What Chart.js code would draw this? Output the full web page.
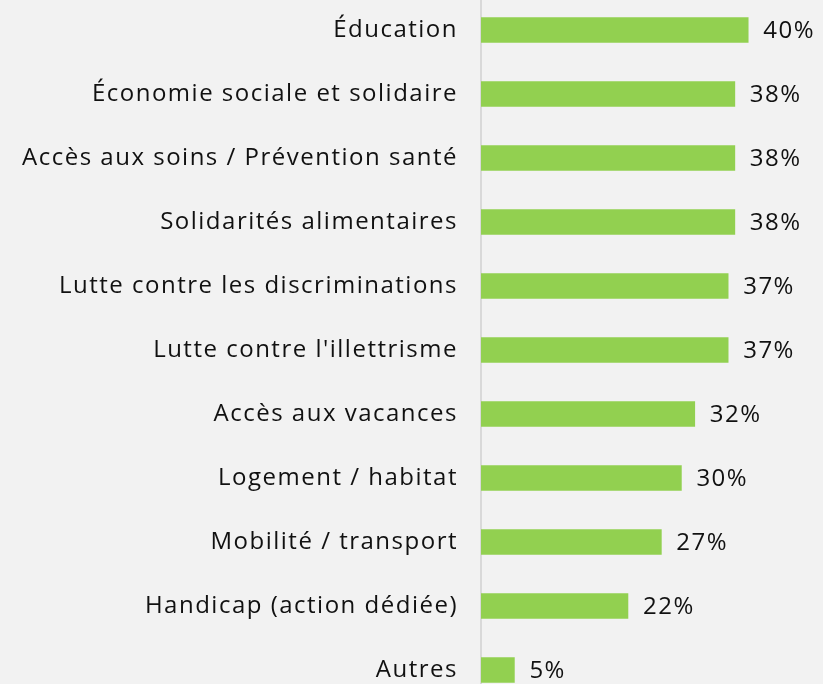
<!DOCTYPE html>
<html><head><meta charset="utf-8">
<script src="https://cdn.jsdelivr.net/npm/chart.js@4.4.1/dist/chart.umd.min.js"></script>
<style>
html,body{margin:0;padding:0;background:#f2f2f2;overflow:hidden;width:823px;height:684px;}
#wrap{position:absolute;left:0;top:-2px;width:823px;height:704px;}
</style></head>
<body>
<div id="wrap"><canvas id="c"></canvas></div>
<script>
const categories = ["Éducation","Économie sociale et solidaire","Accès aux soins / Prévention santé","Solidarités alimentaires","Lutte contre les discriminations","Lutte contre l'illettrisme","Accès aux vacances","Logement / habitat","Mobilité / transport","Handicap (action dédiée)","Autres"];
const values = [40,38,38,38,37,37,32,30,27,22,5];
const FONT = "'Open Sans'";
const FSIZE = 24;
const LS = '1.5px';
const spacing = {
  id:'spacing',
  beforeDraw(chart){ chart.ctx.letterSpacing = LS; }
};
const valueLabels = {
  id:'valueLabels',
  afterDatasetsDraw(chart){
    const ctx = chart.ctx;
    const meta = chart.getDatasetMeta(0);
    ctx.save();
    ctx.letterSpacing = LS;
    ctx.font = FSIZE + "px " + FONT;
    ctx.fillStyle = "#111";
    ctx.textBaseline = "middle";
    ctx.textAlign = "left";
    meta.data.forEach((bar,i)=>{
      ctx.fillText(values[i] + "%", bar.x + 15, bar.y + 1);
    });
    ctx.restore();
  }
};
new Chart(document.getElementById('c'),{
  type:'bar',
  data:{labels:categories,datasets:[{data:values,backgroundColor:'#92d050',barThickness:25}]},
  options:{
    indexAxis:'y',
    responsive:true,maintainAspectRatio:false,animation:false,
    layout:{padding:{left:0,right:8,top:0,bottom:0}},
    plugins:{legend:{display:false},tooltip:{enabled:false}},
    scales:{
      x:{display:false,min:0,max:50},
      y:{
        grid:{display:false,drawTicks:false},
        border:{display:true,color:'#d9d9d9',width:2},
        ticks:{color:'#111',padding:23,font:{family:FONT,size:FSIZE}},
        afterFit(s){s.width=481;s.paddingTop=0;s.paddingBottom=0;}
      }
    }
  },
  plugins:[spacing,valueLabels]
});
</script>
</body></html>
